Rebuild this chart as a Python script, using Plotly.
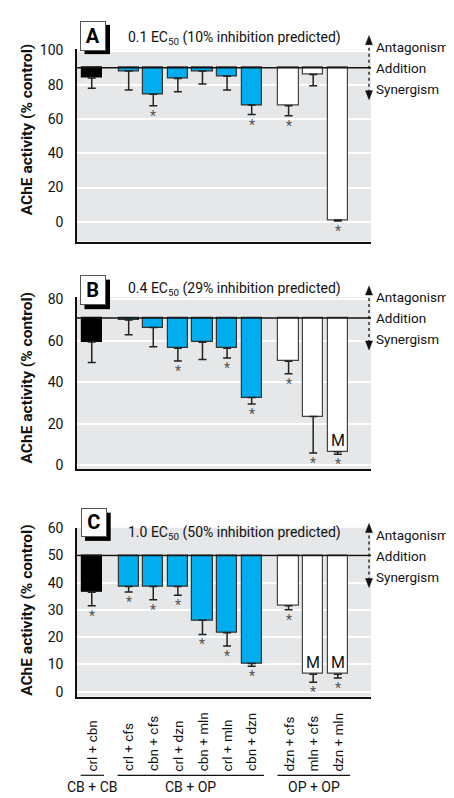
import plotly.graph_objects as go

# ---------------- data ----------------
categories = ["crl + cbn", "crl + cfs", "cbn + cfs", "crl + dzn", "cbn + mln",
              "crl + mln", "cbn + dzn", "dzn + cfs", "mln + cfs", "dzn + mln"]
groups = ["CB + CB"] + ["CB + OP"] * 6 + ["OP + OP"] * 3
group_names = ["CB + CB", "CB + OP", "OP + OP"]

panel_letters = ["A", "B", "C"]
panel_ec = ["0.1", "0.4", "1.0"]
panel_pred = ["10%", "29%", "50%"]
addition = [90, 71, 50]

values_A = [84, 88, 74.5, 83.7, 88, 85, 68.2, 67.8, 86, 1]
errors_A = [6, 11, 6.7, 7.8, 7.5, 8, 5.6, 5.9, 6.5, 0.5]
signif_A = [0, 0, 1, 0, 0, 0, 1, 1, 0, 1]
mixed_A = [0, 0, 0, 0, 0, 0, 0, 0, 0, 0]

values_B = [59.4, 70, 66.4, 56.4, 59.3, 56.4, 32.7, 50.1, 23.5, 6.6]
errors_B = [9.8, 7.1, 9.3, 6.1, 8.3, 4.7, 3.1, 6, 17.5, 1.2]
signif_B = [0, 0, 0, 1, 0, 1, 1, 1, 1, 1]
mixed_B = [0, 0, 0, 0, 0, 0, 0, 0, 0, 1]

values_C = [36.5, 38.6, 38.6, 38.6, 26.2, 21.6, 10.3, 31.6, 6.4, 6.4]
errors_C = [4.9, 2, 4.8, 3.2, 5.2, 4.8, 1, 1.5, 3, 1.4]
signif_C = [1, 1, 1, 1, 1, 1, 1, 1, 1, 1]
mixed_C = [0, 0, 0, 0, 0, 0, 0, 0, 1, 1]

yticks_A = [0, 20, 40, 60, 80, 100]
yticks_B = [0, 20, 40, 60, 80]
yticks_C = [0, 10, 20, 30, 40, 50, 60]

# ---------------- styling / layout ----------------
W, H = 454, 798          # target window
OFF = 8                  # page body margin
WF, HF = W - OFF, H - OFF
FONT = "Roboto, Liberation Sans, sans-serif"
BLUE = "#00AEEF"
BG = "#E6E7E8"
INK = "#111111"
group_fill = {"CB + CB": "#000000", "CB + OP": BLUE, "OP + OP": "#FFFFFF"}
group_line = {"CB + CB": "#000000", "CB + OP": "#333333", "OP + OP": "#444444"}


def px_x(p):
    return (p - OFF) / WF


def px_y(p):
    return 1 - (p - OFF) / HF


# x positions: gap of 1.5 between groups
xpos = []
p = 0.0
for i, g in enumerate(groups):
    if i > 0:
        p += 1.5 if g != groups[i - 1] else 1.0
    xpos.append(p)

panels = [
    dict(vals=values_A, errs=errors_A, sig=signif_A, mix=mixed_A, ticks=yticks_A,
         top=42, bottom=237, yr=[-11.5, 100.6], title_y=30, box=(80.5, 13, 106, 42.7), ytitle_c=124),
    dict(vals=values_B, errs=errors_B, sig=signif_B, mix=mixed_B, ticks=yticks_B,
         top=293.3, bottom=468.3, yr=[-1.9, 81.1], title_y=285, box=(80.5, 271.7, 106, 301.7), ytitle_c=376),
    dict(vals=values_C, errs=errors_C, sig=signif_C, mix=mixed_C, ticks=yticks_C,
         top=527.7, bottom=699, yr=[-1.8, 60.2], title_y=533, box=(81, 508.3, 106.7, 537), ytitle_c=612),
]

fig = go.Figure()
shapes = []
annotations = []
layout_axes = {}

x_domain = [px_x(77), px_x(371)]
ARROW_X = px_x(369)

for k, pnl in enumerate(panels):
    n = k + 1
    xa = "x" if n == 1 else f"x{n}"
    ya = "y" if n == 1 else f"y{n}"
    add = addition[k]
    vals, errs = pnl["vals"], pnl["errs"]
    ylo, yhi = pnl["yr"]
    add_px = pnl["top"] + (yhi - add) / (yhi - ylo) * (pnl["bottom"] - pnl["top"])

    fig.add_trace(go.Bar(
        x=xpos, y=[v - add for v in vals], base=add, width=0.82,
        marker=dict(color=[group_fill[g] for g in groups],
                    line=dict(color=[group_line[g] for g in groups], width=1.2)),
        xaxis=xa, yaxis=ya, showlegend=False, hoverinfo="skip"))

    fig.add_trace(go.Scatter(
        x=xpos, y=vals, mode="markers", marker=dict(size=1, opacity=0),
        error_y=dict(type="data", symmetric=False, array=[0] * len(vals),
                     arrayminus=errs, color="#222222", thickness=1.5, width=4),
        xaxis=xa, yaxis=ya, showlegend=False, hoverinfo="skip"))

    layout_axes["xaxis" if n == 1 else f"xaxis{n}"] = dict(
        domain=x_domain, range=[-0.6, 11.35], showticklabels=False, showgrid=False,
        zeroline=False, showline=True, linecolor=INK, linewidth=1.5,
        anchor=ya, fixedrange=True)
    layout_axes["yaxis" if n == 1 else f"yaxis{n}"] = dict(
        domain=[px_y(pnl["bottom"]), px_y(pnl["top"])], range=pnl["yr"],
        tickvals=pnl["ticks"], showgrid=True, gridcolor="#FFFFFF", gridwidth=1.5,
        zeroline=False, showline=True, linecolor=INK, linewidth=1.5,
        ticks="", ticklabelstandoff=9, tickfont=dict(family=FONT, size=14, color=INK),
        anchor=xa, fixedrange=True)

    # addition line
    shapes.append(dict(type="line", xref=f"{xa} domain", yref=ya, x0=0, x1=1, y0=add, y1=add,
                       line=dict(color=INK, width=1.5), layer="above"))

    # asterisks and M
    for i in range(len(vals)):
        if pnl["sig"][i]:
            annotations.append(dict(x=xpos[i], y=vals[i] - errs[i], xref=xa, yref=ya,
                                    text="*", showarrow=False, yanchor="middle", yshift=-10,
                                    font=dict(family=FONT, size=14, color="#555555")))
        if pnl["mix"][i]:
            annotations.append(dict(x=xpos[i], y=vals[i], xref=xa, yref=ya,
                                    text="M", showarrow=False, yanchor="bottom", yshift=0,
                                    font=dict(family=FONT, size=16, color=INK)))

    # panel title
    annotations.append(dict(x=px_x(126), y=px_y(pnl["title_y"]), xref="paper", yref="paper",
                            xanchor="left", yanchor="middle", showarrow=False,
                            text=f"{panel_ec[k]} EC<sub>50</sub> ({panel_pred[k]} inhibition predicted)",
                            font=dict(family=FONT, size=14, color=INK)))

    # letter box with shadow
    bx0, by0, bx1, by1 = pnl["box"]
    shapes.append(dict(type="rect", xref="paper", yref="paper",
                       x0=px_x(bx0 + 4), x1=px_x(bx1 + 4), y0=px_y(by1 + 4), y1=px_y(by0 + 4),
                       fillcolor="#000000", line=dict(width=0), layer="above"))
    annotations.append(dict(x=px_x((bx0 + bx1) / 2), y=px_y((by0 + by1) / 2),
                            xref="paper", yref="paper", showarrow=False,
                            xanchor="center", yanchor="middle",
                            width=bx1 - bx0 - 2, height=by1 - by0 - 2,
                            bgcolor="#FFFFFF", bordercolor="#555555", borderwidth=1, borderpad=0,
                            text=f"<b>{panel_letters[k]}</b>",
                            font=dict(family=FONT, size=20, color="#000000")))

    # right-side interpretation labels
    for txt, dy in (("Antagonism", 21), ("Addition", 0), ("Synergism", -21)):
        annotations.append(dict(x=px_x(374), y=px_y(add_px), xref="paper", yref="paper", yshift=dy,
                                xanchor="left", yanchor="middle", showarrow=False, text=txt,
                                font=dict(family=FONT, size=13.5, color=INK)))
    yanc = px_y(add_px)
    shapes.append(dict(type="line", xref="paper", yref="paper", x0=ARROW_X, x1=ARROW_X,
                       ysizemode="pixel", yanchor=yanc, y0=-25, y1=25,
                       line=dict(color=INK, width=1.3, dash="3px,3px")))
    # arrowheads (triangles sized in pixels)
    for path in ("M -3.5,23 L 0,32 L 3.5,23 Z", "M -3.5,-23 L 0,-32 L 3.5,-23 Z"):
        shapes.append(dict(type="path", xref="paper", yref="paper", xsizemode="pixel",
                           ysizemode="pixel", xanchor=ARROW_X, yanchor=yanc, path=path,
                           fillcolor=INK, line=dict(color=INK, width=0.5)))

    # y-axis title
    annotations.append(dict(x=px_x(27), y=px_y(pnl["ytitle_c"]), xref="paper", yref="paper",
                            textangle=-90, showarrow=False, xanchor="center", yanchor="middle",
                            text="<b>AChE activity (% control)</b>",
                            font=dict(family=FONT, size=15.5, color=INK)))

# category labels under panel C
for i, c in enumerate(categories):
    annotations.append(dict(x=xpos[i], y=px_y(777), xref="x3", yref="paper", textangle=-90,
                            xanchor="center", yanchor="bottom", showarrow=False, text=c,
                            font=dict(family=FONT, size=13.5, color=INK)))

# group lines and labels
for g in group_names:
    idx = [i for i, gg in enumerate(groups) if gg == g]
    x0, x1 = xpos[idx[0]] - 0.45, xpos[idx[-1]] + 0.5
    shapes.append(dict(type="line", xref="x3", yref="paper", x0=x0, x1=x1,
                       y0=px_y(779), y1=px_y(779), line=dict(color=INK, width=1.2)))
    annotations.append(dict(x=(x0 + x1) / 2, y=px_y(791), xref="x3", yref="paper",
                            xanchor="center", yanchor="middle", showarrow=False, text=g,
                            font=dict(family=FONT, size=14, color=INK)))

fig.update_layout(
    width=WF, height=HF, margin=dict(l=0, r=0, t=0, b=0),
    paper_bgcolor="#FFFFFF", plot_bgcolor=BG, bargap=0,
    shapes=shapes, annotations=annotations, showlegend=False,
    font=dict(family=FONT, color=INK),
    **layout_axes)

fig.write_html("out.html", config={"displayModeBar": False})
